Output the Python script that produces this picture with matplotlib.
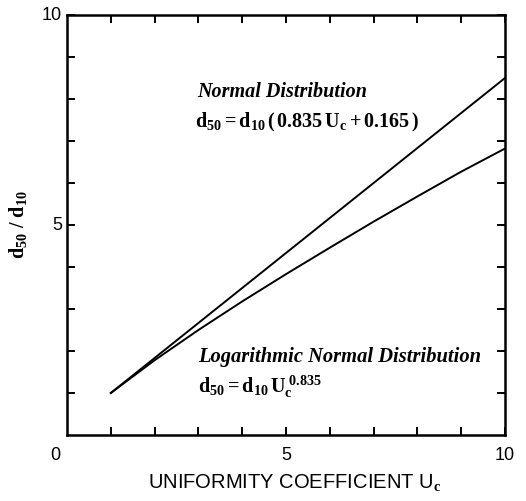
import matplotlib
matplotlib.use("Agg")
import matplotlib.pyplot as plt

plt.rcParams['mathtext.fontset'] = 'custom'
plt.rcParams['mathtext.rm'] = 'Liberation Serif:bold'
plt.rcParams['mathtext.it'] = 'Liberation Serif:bold:italic'
plt.rcParams['mathtext.bf'] = 'Liberation Serif:bold'

# Data
uc_normal = [1, 10]
d_normal = [1.0, 8.5]
uc_lognormal = [1, 2, 3, 4, 5, 6, 7, 8, 9, 10]
d_lognormal = [1.0, 1.78, 2.5, 3.18, 3.83, 4.46, 5.08, 5.68, 6.27, 6.82]

x_ticks = [5, 10]
x_tick_labels = ['5', '10']
y_ticks = [5, 10]
y_tick_labels = ['5', '10']

fig = plt.figure(figsize=(5.26, 5.01), dpi=100)
ax = fig.add_axes([67/526, 66/501, 438/526, 420/501])
ax.set_xlim(0, 10)
ax.set_ylim(0, 10)

ax.plot(uc_normal, d_normal, color='black', lw=1.4)
ax.plot(uc_lognormal, d_lognormal, color='black', lw=1.4)

for s in ax.spines.values():
    s.set_linewidth(1.8)

ax.set_xticks(range(1, 11))
ax.set_yticks(range(1, 11))
ax.tick_params(direction='in', length=6, width=1.4, top=True, right=True,
               labelbottom=False, labelleft=False)

sans = 'Liberation Sans'
for xt, lab in zip(x_ticks, x_tick_labels):
    ax.text(xt, -0.48, lab, ha='center', va='center', fontsize=13, family=sans,
            clip_on=False)
for yt, lab in zip(y_ticks, y_tick_labels):
    ax.text(-0.11, yt, lab, ha='right', va='center', fontsize=13, family=sans,
            clip_on=False)
ax.text(-0.27, -0.48, '0', ha='center', va='center', fontsize=13, family=sans, clip_on=False)

ax.text(5.2, -1.14, 'UNIFORMITY COEFFICIENT U$_\\mathrm{c}$', ha='center', va='center',
        fontsize=14.5, family=sans, clip_on=False)
ax.text(-1.12, 5.0, r'$\mathrm{d_{50}\ /\ d_{10}}$', rotation=90, ha='center', va='center',
        fontsize=14.5, clip_on=False)

ax.text(2.97, 8.17, 'Normal Distribution', fontsize=14.5, family='Liberation Serif',
        weight='bold', style='italic', ha='left', va='center')
ax.text(2.92, 7.45, r'$\mathrm{d_{50} = d_{10}\,(\,0.835\,U_c + 0.165\,)}$', fontsize=14.5,
        ha='left', va='center')
ax.text(2.99, 1.86, 'Logarithmic Normal Distribution', fontsize=14.8, family='Liberation Serif',
        weight='bold', style='italic', ha='left', va='center')
ax.text(2.99, 1.14, r'$\mathrm{d_{50} = d_{10}\,U_c^{\ 0.835}}$', fontsize=14.5,
        ha='left', va='center')

fig.savefig('out.png', dpi=100, facecolor='white')
